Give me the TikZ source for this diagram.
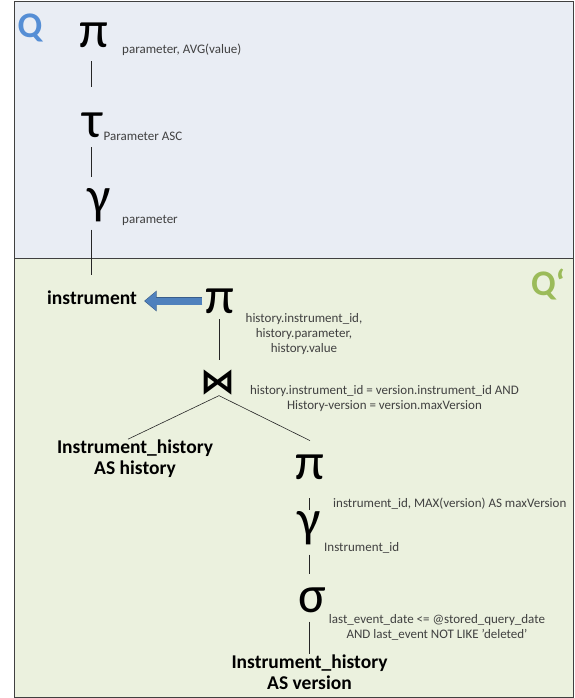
\documentclass[tikz,border=0pt]{standalone}
\usepackage{fontspec}
\setmainfont{Carlito}
\newfontfamily\symfont{DejaVu Sans}
\usetikzlibrary{positioning}
\usetikzlibrary{arrows.meta}

\definecolor{topfill}{HTML}{E9EDF4}
\definecolor{botfill}{HTML}{EBF1DE}
\definecolor{qblue}{HTML}{558ED5}
\definecolor{qgreen}{HTML}{9BBB59}
\definecolor{arrfill}{HTML}{4F81BD}
\definecolor{arrline}{HTML}{385D8A}
\definecolor{lbltext}{HTML}{404040}

\tikzset{
	op/.style = {inner sep = 0pt, outer sep = 0pt, font = \fontsize{52}{52}\selectfont},
	lbl/.style = {inner sep = 0pt, text = lbltext, align = center, font = \fontsize{13}{15}\selectfont},
	rel/.style = {inner sep = 0pt, align = center, font = \fontsize{19.5}{21.5}\selectfont\bfseries},
	link/.style = {draw = black!85, line width = 0.6pt},
	letter/.style = {inner sep = 0pt, font = \fontsize{36}{36}\selectfont\bfseries},
}

\begin{document}
\begin{tikzpicture}[x = 1pt, y = -1pt]
		
		% background areas
		\useasboundingbox (0,0) rectangle (574,698);
		\fill[topfill] (14,1) rectangle (573,258);
		\fill[botfill] (14,258) rectangle (573,697);
		\draw[black!75, line width = 0.8pt] (14,1) rectangle (573,697);
		\draw[black!75, line width = 0.8pt] (14,258) -- (573,258);
		
		\node[letter, text = qblue] at (30,28) (q) {Q};
		\node[letter, text = qgreen] at (548,284) (qq) {Q‘};
		
		% outer query
		\coordinate (outeraxis) at (91.5,0);
		\node[op] at (94,35) (pi1) {π};
		\node[lbl, anchor = base west] at (122,53.5) (pi1l) {parameter, AVG(value)};
		\node[op] at (93,125) (tau) {τ};
		\node[lbl, anchor = base west] at (103.5,140) (taul) {Parameter ASC};
		\node[op] at (99,205) (gam1) {γ};
		\node[lbl, anchor = base west] at (122,223.5) (gam1l) {parameter};
		\node[rel, anchor = base west] at (47,304) (instr) {instrument};
		
		% inner query
		\coordinate (joinaxis) at (219,0);
		\coordinate (inneraxis) at (309.5,0);
		\node[op] at (220,301) (pi2) {π};
		\node[lbl] at (304,334) (pi2l) {history.instrument\_id,\\ history.parameter,\\ history.value};
		\node[op, font = \fontsize{35}{35}\symfont\bfseries] at (218,383) (join) {⋈};
		\node[lbl] at (384.5,399) (joinl) {history.instrument\_id = version.instrument\_id AND\\ History-version = version.maxVersion};
		\node[rel] at (135,458.5) (hist) {Instrument\_history\\ AS history};
		\node[op] at (310,467) (pi3) {π};
		\node[lbl, anchor = base west] at (333,507) (pi3l) {instrument\_id, MAX(version) AS maxVersion};
		\node[op] at (309,528) (gam2) {γ};
		\node[lbl, anchor = base west] at (324,551.5) (gam2l) {Instrument\_id};
		\node[op] at (312,600) (sig) {σ};
		\node[lbl] at (437,627) (sigl) {last\_event\_date <= @stored\_query\_date\\ AND last\_event NOT LIKE 'deleted'};
		\node[rel] at (309.5,672) (vers) {Instrument\_history\\ AS version};
		
		\path[link]
		(pi1.south -| outeraxis) edge[shorten <= 14pt, shorten >= 26pt] (tau.north -| outeraxis)
		(tau.south -| outeraxis) edge[shorten <= 10pt, shorten >= 11pt] (gam1.north -| outeraxis)
		(gam1.south -| outeraxis) edge[shorten <= 8pt, shorten >= 15pt] (instr.north -| outeraxis)
		(pi2.south -| joinaxis) edge[shorten <= 6pt, shorten >= 10pt] (join.north -| joinaxis)
		(join.south -| joinaxis) edge[] ([xshift = -7pt]hist.north)
		(join.south -| joinaxis) edge[] ([yshift = 14pt]pi3.north)
		(pi3.south -| inneraxis) edge[shorten <= 19pt, shorten >= 1pt] (gam2.north -| inneraxis)
		(gam2.south -| inneraxis) edge[shorten <= 10pt, shorten >= 13pt] (sig.north -| inneraxis)
		(sig.south -| inneraxis) edge[shorten <= 9pt] (vers.north -| inneraxis)
		;
		
		\draw[arrfill, line width = 7pt, shorten >= 8pt, shorten <= 4pt, -{Triangle[length = 11pt, width = 18pt]},
			preaction = {draw = arrline, line width = 8.6pt, shorten >= 7pt, shorten <= 3.2pt, -{Triangle[length = 12.5pt, width = 20pt]}}]
		(pi2.west) -- (pi2.west -| instr.east);
		
		\end{tikzpicture}
\end{document}
